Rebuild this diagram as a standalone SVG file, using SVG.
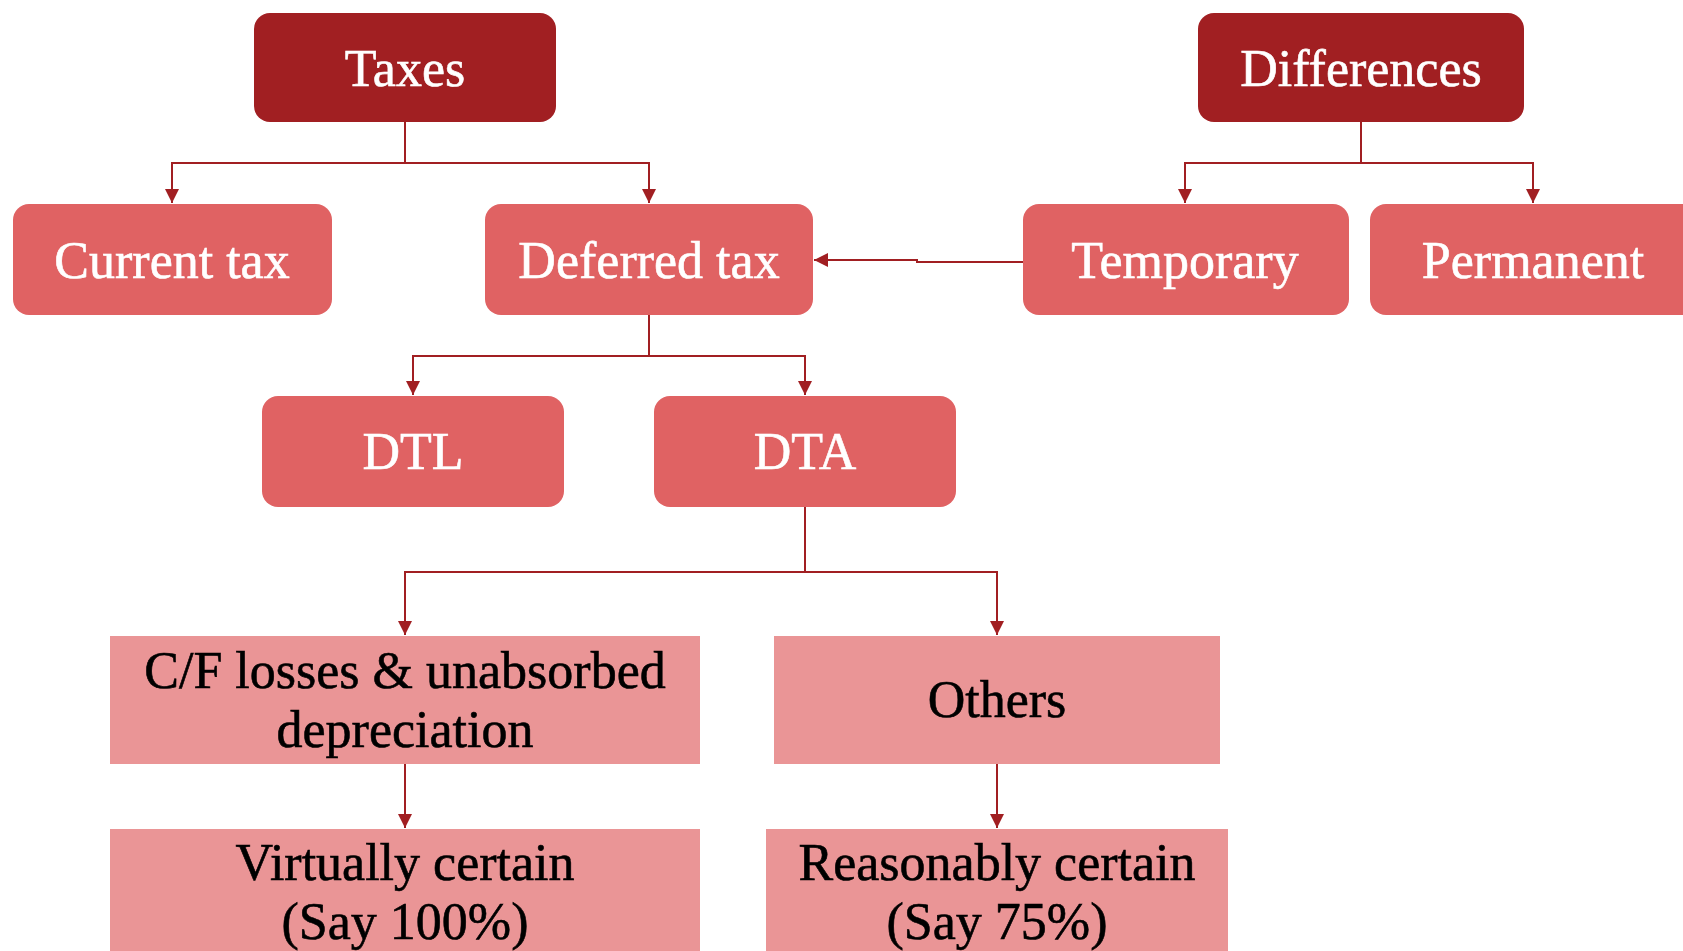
<svg xmlns="http://www.w3.org/2000/svg" width="1683" height="951" viewBox="0 0 1683 951">
<style>
.dark{fill:#A11F22}
.mid{fill:#E06263}
.light{fill:#EA9596}
.t{font-family:"Liberation Serif","Times New Roman",serif;font-size:52px;text-anchor:middle;stroke-width:0.6px}
.w{fill:#FFFFFF;stroke:#FFFFFF}
.b{fill:#000000;stroke:#000000}
.c{fill:none;stroke:#A11F22;stroke-width:2}
</style>
<defs>
<marker id="ah" markerWidth="14" markerHeight="14" refX="14" refY="7" orient="auto" markerUnits="userSpaceOnUse">
<path d="M0,0 L14,7 L0,14 Z" fill="#A11F22"/>
</marker>
</defs>
<rect width="1683" height="951" fill="#FFFFFF"/>
<g id="connectors">
<path class="c" d="M405,122 V163 H172 V203" marker-end="url(#ah)"/>
<path class="c" d="M405,163 H649 V203" marker-end="url(#ah)"/>
<path class="c" d="M1361,122 V163 H1185 V203" marker-end="url(#ah)"/>
<path class="c" d="M1361,163 H1533 V203" marker-end="url(#ah)"/>
<path class="c" d="M1023,262 H917 V260 H814" marker-end="url(#ah)"/>
<path class="c" d="M649,315 V356 H413 V395" marker-end="url(#ah)"/>
<path class="c" d="M649,356 H805 V395" marker-end="url(#ah)"/>
<path class="c" d="M805,507 V572 H405 V635" marker-end="url(#ah)"/>
<path class="c" d="M805,572 H997 V635" marker-end="url(#ah)"/>
<path class="c" d="M405,764 V828" marker-end="url(#ah)"/>
<path class="c" d="M997,764 V828" marker-end="url(#ah)"/>
</g>
<g id="taxes"><rect class="dark" x="254" y="13" width="302" height="109" rx="16"/><text class="t w" x="405" y="86">Taxes</text></g>
<g id="differences"><rect class="dark" x="1198" y="13" width="326" height="109" rx="16"/><text class="t w" x="1361" y="86">Differences</text></g>
<g id="current-tax"><rect class="mid" x="13" y="204" width="319" height="111" rx="16"/><text class="t w" x="172" y="278">Current tax</text></g>
<g id="deferred-tax"><rect class="mid" x="485" y="204" width="328" height="111" rx="16"/><text class="t w" x="649" y="278">Deferred tax</text></g>
<g id="temporary"><rect class="mid" x="1023" y="204" width="326" height="111" rx="16"/><text class="t w" x="1185" y="278">Temporary</text></g>
<g id="permanent"><rect class="mid" x="1370" y="204" width="330" height="111" rx="16"/><text class="t w" x="1533" y="278">Permanent</text></g>
<g id="dtl"><rect class="mid" x="262" y="396" width="302" height="111" rx="16"/><text class="t w" x="413" y="469">DTL</text></g>
<g id="dta"><rect class="mid" x="654" y="396" width="302" height="111" rx="16"/><text class="t w" x="805" y="469">DTA</text></g>
<g id="cf-losses"><rect class="light" x="110" y="636" width="590" height="128"/><text class="t b" x="405" y="688">C/F losses &amp; unabsorbed</text><text class="t b" x="405" y="747">depreciation</text></g>
<g id="others"><rect class="light" x="774" y="636" width="446" height="128"/><text class="t b" x="997" y="717">Others</text></g>
<g id="virtually-certain"><rect class="light" x="110" y="829" width="590" height="130"/><text class="t b" x="405" y="880">Virtually certain</text><text class="t b" x="405" y="939">(Say 100%)</text></g>
<g id="reasonably-certain"><rect class="light" x="766" y="829" width="462" height="130"/><text class="t b" x="997" y="880">Reasonably certain</text><text class="t b" x="997" y="939">(Say 75%)</text></g>
</svg>
